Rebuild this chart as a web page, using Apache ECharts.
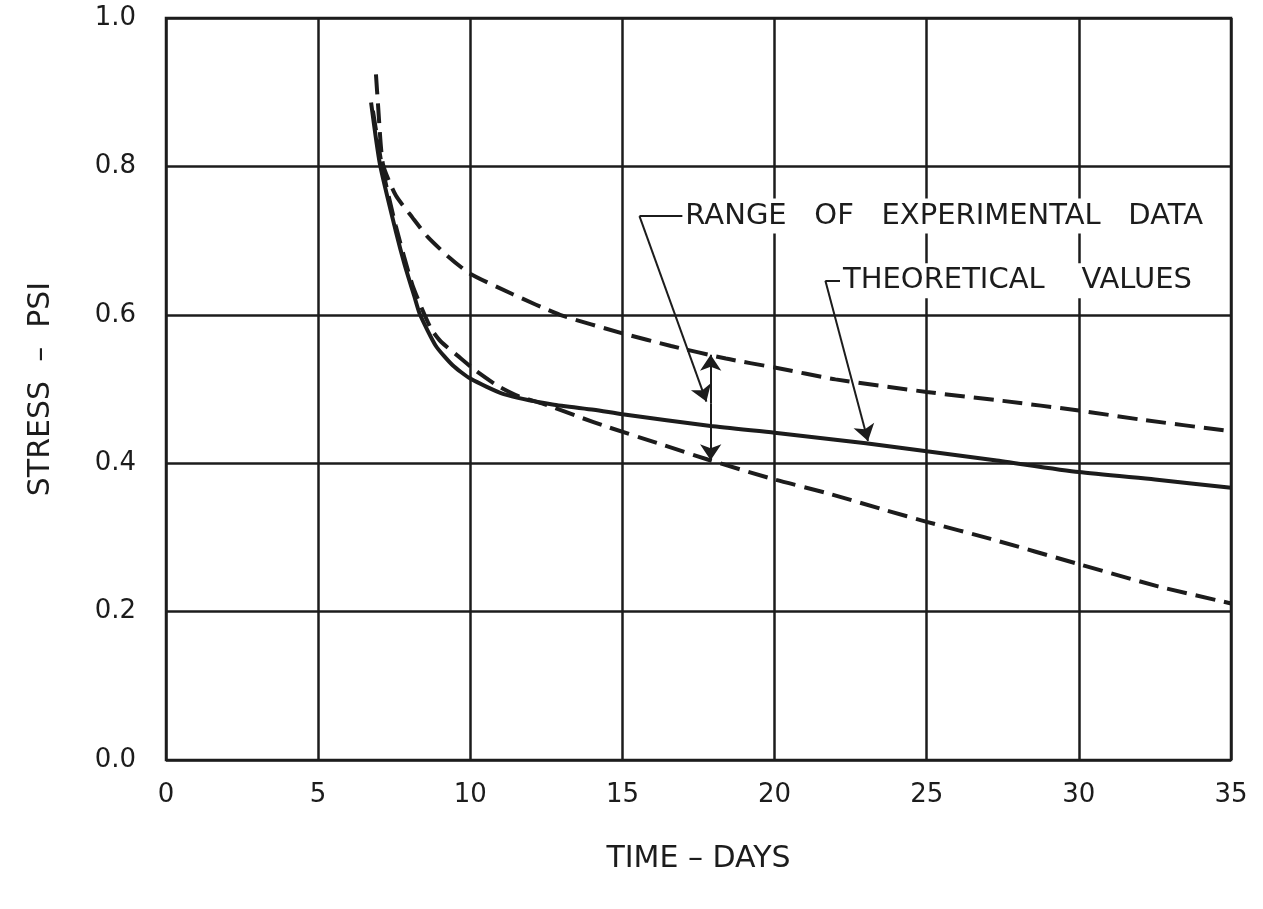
<!DOCTYPE html>
<html lang="en">
<head>
    <meta charset="UTF-8">
    <title>Stress vs time</title>
    <script src="https://cdn.jsdelivr.net/npm/echarts@6/dist/echarts.min.js"></script>
    <style>
        html, body { margin: 0; padding: 0; background: #fff; }
    </style>
</head>
<body>
<div id="main" style="width: 1263px;height:909px;"></div>

<script type="text/javascript">
    // 读图得到的数据 (time in days, stress in psi)
    var theoretical = [
        [6.74, 0.886], [7.03, 0.803], [7.55, 0.713], [7.84, 0.668], [8.16, 0.625],
        [8.35, 0.600], [8.87, 0.558], [9.42, 0.532], [10.0, 0.514], [11.1, 0.493],
        [12.7, 0.479], [14.06, 0.472], [15.0, 0.466], [17.9, 0.450], [20.0, 0.441],
        [23.0, 0.427], [25.0, 0.416], [27.24, 0.404], [30.0, 0.388], [32.5, 0.378],
        [35.0, 0.367]
    ];
    var rangeUpper = [
        [6.9, 0.924], [6.97, 0.882], [7.13, 0.803], [7.55, 0.761], [8.1, 0.731],
        [8.6, 0.705], [9.29, 0.678], [9.97, 0.656], [11.38, 0.628], [12.95, 0.600],
        [15.0, 0.575], [16.6, 0.558], [18.4, 0.541], [20.0, 0.529], [22.0, 0.513],
        [25.0, 0.496], [27.5, 0.484], [30.0, 0.471], [32.0, 0.459], [35.0, 0.443]
    ];
    var rangeLower = [
        [6.8, 0.875], [7.1, 0.800], [7.55, 0.720], [8.1, 0.640], [8.7, 0.582],
        [9.03, 0.564], [9.58, 0.545], [10.2, 0.524], [10.95, 0.503], [11.6, 0.490],
        [12.4, 0.480], [13.6, 0.462], [14.5, 0.449], [16.3, 0.425], [17.8, 0.405],
        [20.0, 0.378], [21.7, 0.360], [23.7, 0.336], [25.0, 0.321], [27.1, 0.298],
        [30.0, 0.264], [32.6, 0.234], [35.0, 0.211]
    ];
    var xTicks = [0, 5, 10, 15, 20, 25, 30, 35];
    var yTicks = ['0.0', '0.2', '0.4', '0.6', '0.8', '1.0'];

    var ink = '#1c1c1c';
    var font = 'DejaVu Sans';

    var myChart = echarts.init(document.getElementById('main'));

    function curve(name, data, dashed) {
        return {
            name: name,
            type: 'line',
            data: data,
            smooth: 0.2,
            showSymbol: false,
            lineStyle: { color: ink, width: 4, type: dashed ? [20, 9] : 'solid' }
        };
    }

    var solid = curve('theoretical', theoretical, false);
    solid.markLine = {
        silent: true,
        animation: false,
        label: { show: false },
        lineStyle: { color: ink, width: 2, type: 'solid' },
        symbolSize: 16,
        data: [
            // RANGE leader
            [{ coord: [15.56, 0.733], symbol: 'none' }, { coord: [16.97, 0.733], symbol: 'none' }],
            [{ coord: [15.56, 0.733], symbol: 'none' }, { coord: [17.76, 0.483], symbol: 'arrow' }],
            // double arrow between bounds
            [{ coord: [17.9, 0.480], symbol: 'none' }, { coord: [17.9, 0.546], symbol: 'arrow' }],
            [{ coord: [17.9, 0.480], symbol: 'none' }, { coord: [17.9, 0.404], symbol: 'arrow' }],
            // THEORETICAL leader
            [{ coord: [21.67, 0.646], symbol: 'none' }, { coord: [22.15, 0.646], symbol: 'none' }],
            [{ coord: [21.67, 0.646], symbol: 'none' }, { coord: [23.07, 0.430], symbol: 'arrow' }]
        ]
    };

    myChart.setOption({
        animation: false,
        backgroundColor: '#fff',
        grid: {
            left: 166, right: 32, top: 18, bottom: 149,
            show: true, borderColor: ink, borderWidth: 2.5
        },
        xAxis: {
            type: 'value',
            min: 0, max: 35, interval: 5,
            name: 'TIME – DAYS',
            nameLocation: 'middle',
            nameGap: 84,
            nameTextStyle: { fontFamily: font, fontSize: 30, color: ink },
            axisLine: { show: false },
            axisTick: { show: false },
            axisLabel: {
                margin: 22, fontFamily: font, fontSize: 26, color: ink,
                formatter: function (v) { return xTicks.indexOf(v) >= 0 ? String(v) : ''; }
            },
            splitLine: { lineStyle: { color: ink, width: 2.5 } }
        },
        yAxis: {
            type: 'value',
            min: 0, max: 1, interval: 0.2,
            name: 'STRESS  –  PSI',
            nameLocation: 'middle',
            nameGap: 110,
            nameTextStyle: { fontFamily: font, fontSize: 30, color: ink },
            axisLine: { show: false },
            axisTick: { show: false },
            axisLabel: {
                margin: 30, fontFamily: font, fontSize: 26, color: ink,
                formatter: function (v) { return yTicks[Math.round(v * 5)]; }
            },
            splitLine: { lineStyle: { color: ink, width: 2.5 } }
        },
        series: [
            solid,
            curve('upper', rangeUpper, true),
            curve('lower', rangeLower, true),
            {
                name: 'notes',
                type: 'scatter',
                symbolSize: 0,
                z: 5,
                itemStyle: { opacity: 1 },
                label: {
                    show: true,
                    position: 'right',
                    distance: 1,
                    fontFamily: font,
                    fontSize: 29,
                    color: ink,
                    opacity: 1,
                    backgroundColor: '#fff',
                    padding: [3, 2],
                    formatter: function (p) { return p.name; }
                },
                emphasis: { disabled: true },
                data: [
                    { name: 'RANGE   OF   EXPERIMENTAL   DATA', value: [16.97, 0.733] },
                    { name: 'THEORETICAL    VALUES', value: [22.15, 0.646] }
                ]
            }
        ]
    });
</script>
</body>
</html>
